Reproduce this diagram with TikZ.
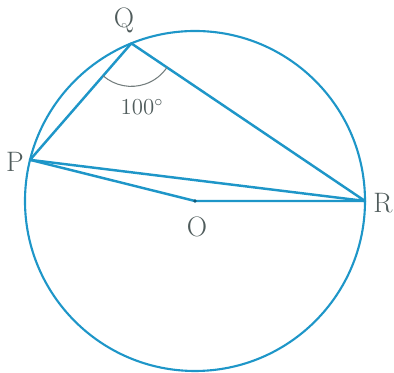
\documentclass[tikz,border=0pt]{standalone}
\usepackage{tikz}
\usetikzlibrary{positioning}
\definecolor{lineblue}{RGB}{30,150,200}
\definecolor{labelgray}{RGB}{80,92,92}

\begin{document}
\begin{tikzpicture}[
    every node/.style={font=\fontsize{16}{19}\selectfont, text=labelgray, inner sep=1pt},
    chord/.style={lineblue, line width=1.4pt, line join=round, line cap=round},
    anglemark/.style={labelgray!80, line width=0.6pt},
  ]
  \def\rad{3.4}
  \def\angQ{112}
  \def\angP{166}
  \useasboundingbox (0,0) rectangle (7.88,7.46);

  % Circle and points on it -------------------------------------------------
  \coordinate (O) at (3.9,3.44);
  \coordinate (Q) at ([shift={(\angQ:\rad)}]O);
  \coordinate (P) at ([shift={(\angP:\rad)}]O);
  \coordinate (R) at ([shift={(0:\rad)}]O);
  \draw[lineblue, line width=1.2pt] (O) circle (\rad);

  % Chords and radius -------------------------------------------------------
  \draw[chord] (P) -- (Q) -- (R) -- cycle;
  \draw[chord] (P) -- (O) -- (R);
  \fill[lineblue!60!black] (O) circle (1.1pt);

  % Inscribed angle at Q ----------------------------------------------------
  \draw[anglemark] ([shift={(229:0.86)}]Q) arc[start angle=229, end angle=326, radius=0.86];
  \node[font=\fontsize{13}{15}\selectfont] (deg) at (2.84,5.32) {100$^\circ$};

  % Labels ------------------------------------------------------------------
  \node (lq) at (2.48,7.06) {Q};
  \node (lp) at (0.30,4.22) {P};
  \node (lr) at (7.66,3.40) {R};
  \node (lo) at (3.94,2.92) {O};

\end{tikzpicture}
\end{document}
